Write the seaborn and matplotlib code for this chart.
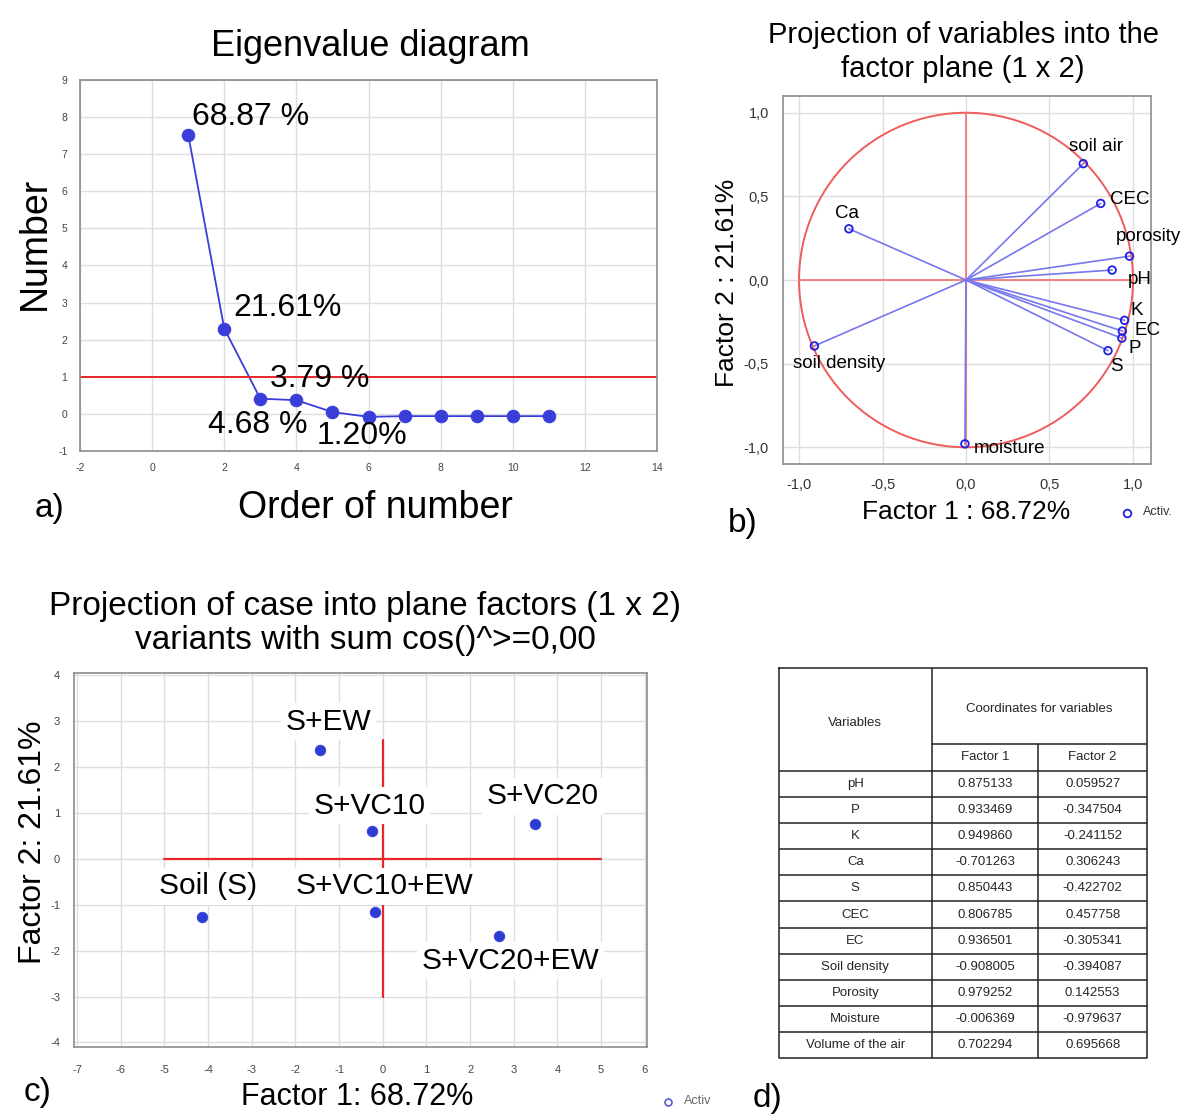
import numpy as np
import pandas as pd
import matplotlib
matplotlib.use("Agg")
import matplotlib.pyplot as plt
import seaborn as sns
from matplotlib.lines import Line2D
from matplotlib.patches import Circle

# ---------------- data ----------------
eig_order = [1, 2, 3, 4, 5, 6, 7, 8, 9, 10, 11]
eig_values = [7.53, 2.30, 0.41, 0.37, 0.05, -0.08, -0.06, -0.06, -0.06, -0.06, -0.06]
eig_pct_labels = ["68.87 %", "21.61%", "3.79 %", "4.68 %", "1.20%"]

table_vars = ["pH", "P", "K", "Ca", "S", "CEC", "EC", "Soil density",
              "Porosity", "Moisture", "Volume of the air"]
plot_vars = ["pH", "P", "K", "Ca", "S", "CEC", "EC", "soil density",
             "porosity", "moisture", "soil air"]
factor1 = [0.875133, 0.933469, 0.949860, -0.701263, 0.850443, 0.806785,
           0.936501, -0.908005, 0.979252, -0.006369, 0.702294]
factor2 = [0.059527, -0.347504, -0.241152, 0.306243, -0.422702, 0.457758,
           -0.305341, -0.394087, 0.142553, -0.979637, 0.695668]

cases = ["Soil (S)", "S+EW", "S+VC10", "S+VC10+EW", "S+VC20", "S+VC20+EW"]
case_f1 = [-4.15, -1.43, -0.25, -0.18, 3.49, 2.65]
case_f2 = [-1.26, 2.37, 0.61, -1.16, 0.76, -1.68]

b_tick_values = [-1.0, -0.5, 0.0, 0.5, 1.0]
b_tick_labels = ["-1,0", "-0,5", "0,0", "0,5", "1,0"]

# ---------------- style ----------------
sns.set_theme(style="whitegrid")
plt.rcParams["font.family"] = ["Liberation Sans", "DejaVu Sans"]
plt.rcParams["axes.edgecolor"] = "#8c8c8c"
plt.rcParams["grid.color"] = "#dedede"
plt.rcParams["axes.linewidth"] = 1.2
plt.rcParams["axes.unicode_minus"] = False

W, H = 1184, 1115
fig = plt.figure(figsize=(W / 100, H / 100), dpi=100)
fig.patch.set_facecolor("white")

def fx(x):
    return x / W

def fy(y):
    return 1 - y / H

def add_ax(l, t, r, b):
    return fig.add_axes([fx(l), fy(b), (r - l) / W, (b - t) / H])

def ftext(x, y, s, size, **kw):
    kw.setdefault("ha", "center")
    kw.setdefault("va", "center")
    fig.text(fx(x), fy(y), s, fontsize=size, color=kw.pop("color", "black"), **kw)

BLUE = "#3a3ed8"
RED = "#e8262c"

# ---------------- panel a ----------------
ax_a = add_ax(80, 80, 657, 451)
sns.lineplot(x=eig_order, y=eig_values, ax=ax_a, color=BLUE, linewidth=1.3,
             marker="o", markersize=9, markeredgecolor=BLUE)
ax_a.axhline(1.0, color=RED, linewidth=1.4)
ax_a.set_xlim(-2, 14)
ax_a.set_ylim(-1, 9)
ax_a.set_xticks(range(-2, 15, 2))
ax_a.set_yticks(range(-1, 10))
ax_a.tick_params(labelsize=7.5, labelcolor="#444444", pad=3)
a_label_xy = [(1.1, 8.0), (2.25, 2.86), (3.28, 0.93), (1.55, -0.29), (4.55, -0.6)]
for s, (x, y) in zip(eig_pct_labels, a_label_xy):
    ax_a.text(x, y, s, fontsize=23, ha="left", va="center", color="black")
ftext(370, 47, "Eigenvalue diagram", 26)
ftext(35, 243, "Number", 27, rotation=90)
ftext(375, 508, "Order of number", 27)
ftext(50, 508, "a)", 24)

# ---------------- panel b ----------------
ax_b = add_ax(783, 96, 1151, 464)
circ = Circle((0, 0), 1.0, fill=False, edgecolor="#ee5c5c", linewidth=1.4, zorder=2)
ax_b.add_patch(circ)
ax_b.plot([-1, 1], [0, 0], color="#f07a7a", linewidth=1.3, zorder=2)
ax_b.plot([0, 0], [-1, 1], color="#f07a7a", linewidth=1.3, zorder=2)
for x, y in zip(factor1, factor2):
    ax_b.plot([0, x], [0, y], color="#7777ee", linewidth=1.2, zorder=3)
sns.scatterplot(x=factor1, y=factor2, ax=ax_b, marker="o", s=30, color="#1f1fe6",
                facecolors="none", edgecolor="#1f1fe6", linewidth=1.3, zorder=4)
b_label_xy = {
    "soil air": (0.78, 0.80), "CEC": (0.98, 0.48), "porosity": (1.09, 0.26),
    "pH": (1.04, 0.0), "K": (1.02, -0.18), "EC": (1.09, -0.30), "P": (1.01, -0.41),
    "S": (0.90, -0.52), "Ca": (-0.71, 0.40), "soil density": (-0.76, -0.50),
    "moisture": (0.26, -1.01),
}
for name in plot_vars:
    x, y = b_label_xy[name]
    ax_b.text(x, y, name, fontsize=13.5, ha="center", va="center", color="black", zorder=5)
ax_b.set_xlim(-1.096, 1.108)
ax_b.set_ylim(-1.10, 1.10)
ax_b.set_xticks(b_tick_values)
ax_b.set_xticklabels(b_tick_labels)
ax_b.set_yticks(b_tick_values)
ax_b.set_yticklabels(b_tick_labels)
ax_b.tick_params(labelsize=10.5, labelcolor="#333333", pad=4)
ftext(963, 35, "Projection of variables into the", 21)
ftext(963, 69, "factor plane (1 x 2)", 21)
ftext(727, 283, "Factor 2 : 21.61%", 19, rotation=90)
ftext(966, 512, "Factor 1 : 68.72%", 19)
ftext(743, 523, "b)", 24)
fig.add_artist(Line2D([fx(1127)], [fy(513)], marker="o", markersize=5.5,
                      markerfacecolor="none", markeredgecolor="#1f1fe6",
                      markeredgewidth=1.3, transform=fig.transFigure))
ftext(1143, 512, "Activ.", 9, ha="left", color="#333333")

# ---------------- panel c ----------------
ax_c = add_ax(74, 673, 647, 1047)
ax_c.plot([-5, 5], [0, 0], color=RED, linewidth=1.6, zorder=2)
ax_c.plot([0, 0], [-3.0, 2.6], color=RED, linewidth=1.6, zorder=2)
sns.scatterplot(x=case_f1, y=case_f2, ax=ax_c, marker="o", s=55, color="#2d3cd2",
                edgecolor="#3a48d8", linewidth=0.8, zorder=4)
c_label_xy = {
    "S+EW": (-1.25, 2.99), "S+VC10": (-0.30, 1.16), "S+VC20": (3.66, 1.36),
    "Soil (S)": (-4.0, -0.60), "S+VC10+EW": (0.04, -0.60), "S+VC20+EW": (2.92, -2.22),
}
for name in cases:
    x, y = c_label_xy[name]
    ax_c.text(x, y, name, fontsize=21.5, ha="center", va="center", color="black", zorder=3,
              bbox=dict(boxstyle="square,pad=0.15", facecolor="white", edgecolor="none"))
ax_c.set_xlim(-7.07, 6.05)
ax_c.set_ylim(-4.1, 4.05)
ax_c.set_xticks(range(-7, 7))
ax_c.set_yticks(range(-4, 5))
ax_c.tick_params(axis="x", labelsize=8, labelcolor="#444444", pad=7)
ax_c.tick_params(axis="y", labelsize=8, labelcolor="#444444", pad=4)
ftext(365, 606, "Projection of case into plane factors (1 x 2)", 24)
ftext(365, 641, "variants with sum cos()^>=0,00", 24)
ftext(33, 842, "Factor 2: 21.61%", 23, rotation=90)
ftext(357, 1097, "Factor 1: 68.72%", 22)
ftext(38, 1093, "c)", 24)
fig.add_artist(Line2D([fx(668)], [fy(1102)], marker="o", markersize=5,
                      markerfacecolor="none", markeredgecolor="#5a5ad8",
                      markeredgewidth=1.2, transform=fig.transFigure))
ftext(684, 1101, "Activ", 9, ha="left", color="#666666")
ftext(768, 1098, "d)", 24)

# ---------------- panel d (table) ----------------
ax_d = add_ax(779, 668, 1147, 1058)
ax_d.set_xlim(0, 368)
ax_d.set_ylim(390, 0)
ax_d.axis("off")
c1, c2, cr = 152.7, 259.3, 368
h1, h2 = 76, 103
row_h = (390 - h2) / len(table_vars)
lc = "#222222"
lw = 1.1
ax_d.plot([0, cr, cr, 0, 0], [0, 0, 390, 390, 0], color=lc, linewidth=lw, clip_on=False)
ax_d.plot([c1, c1], [0, 390], color=lc, linewidth=lw)
ax_d.plot([c2, c2], [h1, 390], color=lc, linewidth=lw)
ax_d.plot([c1, cr], [h1, h1], color=lc, linewidth=lw)
for i in range(len(table_vars)):
    yy = h2 + i * row_h
    ax_d.plot([0, cr], [yy, yy], color=lc, linewidth=lw)
tfs = 9.5
ax_d.text(c1 / 2, 55, "Variables", fontsize=tfs, ha="center", va="center")
ax_d.text((c1 + cr) / 2, 41, "Coordinates for variables", fontsize=tfs, ha="center", va="center")
ax_d.text((c1 + c2) / 2, (h1 + h2) / 2, "Factor 1", fontsize=tfs, ha="center", va="center")
ax_d.text((c2 + cr) / 2, (h1 + h2) / 2, "Factor 2", fontsize=tfs, ha="center", va="center")
for i, (name, v1, v2) in enumerate(zip(table_vars, factor1, factor2)):
    yc = h2 + (i + 0.5) * row_h
    ax_d.text(c1 / 2, yc, name, fontsize=tfs, ha="center", va="center")
    ax_d.text((c1 + c2) / 2, yc, f"{v1:.6f}", fontsize=tfs, ha="center", va="center")
    ax_d.text((c2 + cr) / 2, yc, f"{v2:.6f}", fontsize=tfs, ha="center", va="center")

fig.savefig("out.png", dpi=100, facecolor="white")
